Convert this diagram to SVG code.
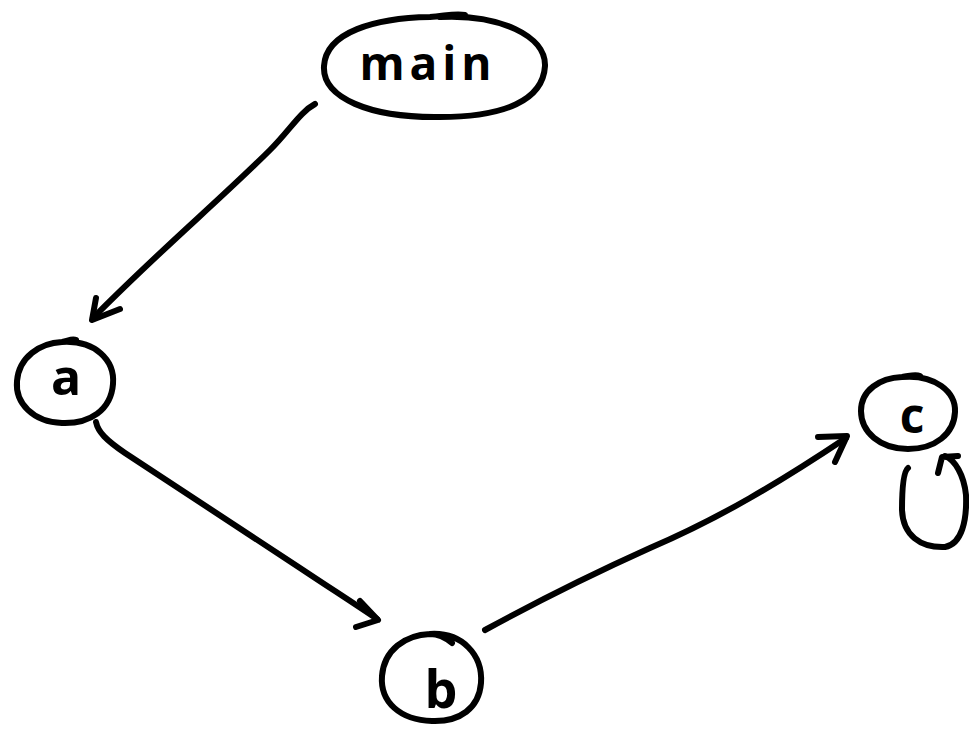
<svg xmlns="http://www.w3.org/2000/svg" width="969" height="731" viewBox="0 0 969 731">
<style>
.s{fill:none;stroke:#000;stroke-width:6;stroke-linecap:round;stroke-linejoin:round}
.t{font-family:"Open Sans","Liberation Sans",sans-serif;fill:#000;text-anchor:middle;font-weight:700}
</style>
<rect width="969" height="731" fill="#fff"/>
<g id="main">
<path class="s" d="M440,17 C500,14 546,36 545,66 C543,100 505,117 440,117 C370,118 322,98 324,66 C326,32 375,18 430,17 C445,16 455,13 465,15"/>
<text class="t" x="428" y="80" font-size="46" letter-spacing="5">main</text>
</g>
<g id="a">
<path class="s" d="M62,342 C95,340 115,360 113,384 C111,410 90,424 62,423 C33,422 15,403 17,381 C19,357 40,343 62,342 C68,341 72,338 76,340"/>
<text class="t" x="66" y="395" font-size="50">a</text>
</g>
<g id="b">
<path class="s" d="M430,634 C462,632 483,655 481,683 C479,708 460,722 432,721 C400,720 380,702 382,676 C384,650 405,635 430,634 C440,634 446,638 452,643"/>
<text class="t" x="441" y="708" font-size="52">b</text>
</g>
<g id="c">
<path class="s" d="M902,377 C935,374 956,392 955,412 C954,434 935,449 908,449 C880,449 861,432 861,411 C861,390 880,378 902,377 C910,376 915,374 920,376"/>
<text class="t" x="912" y="433" font-size="48">c</text>
</g>
<g id="connectors">
<path class="s" d="M315,104 C300,112 290,130 270,150 C220,200 160,250 93,318"/>
<path class="s" d="M96,298 L92,320 L120,309"/>
<path class="s" d="M96,422 C98,432 106,440 125,453 L300,568 C330,588 355,604 377,619"/>
<path class="s" d="M360,601 L378,620 L356,627"/>
<path class="s" d="M485,630 C540,600 590,575 650,548 C720,518 780,482 846,438"/>
<path class="s" d="M818,437 L847,436 L835,462"/>
<path class="s" d="M908,468 C903,472 902,490 902,510 C903,535 920,548 945,547 C962,544 967,520 966,495 C964,475 955,460 945,456"/>
<path class="s" d="M938,473 L942,457 L958,456"/>
</g>
</svg>
